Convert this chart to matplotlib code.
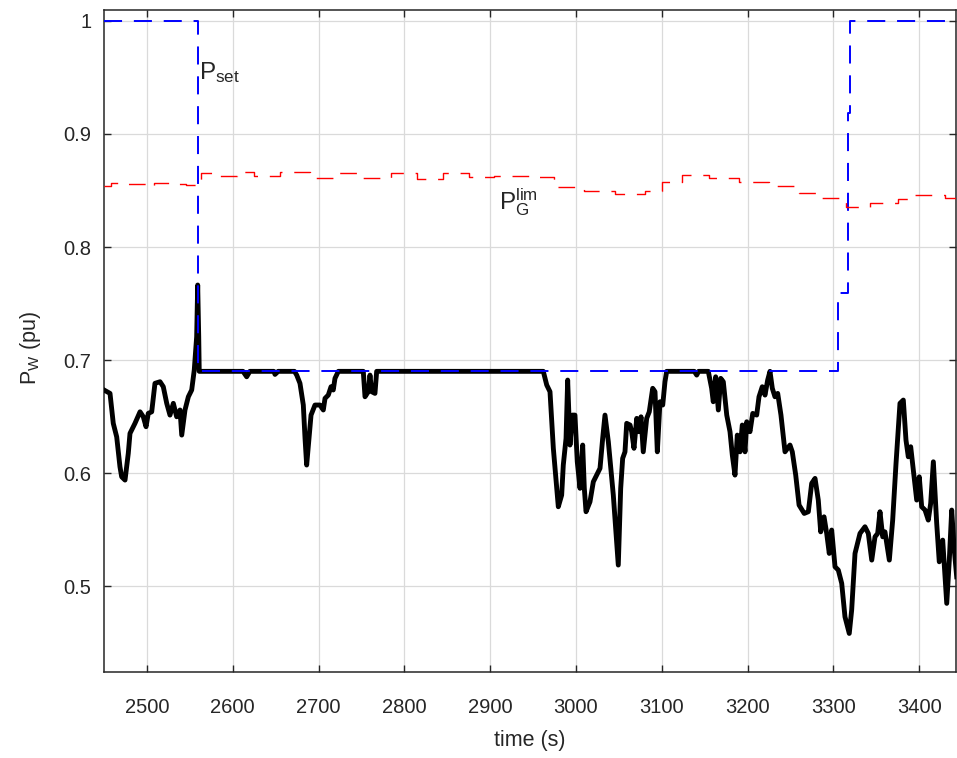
import matplotlib
matplotlib.use("Agg")
import matplotlib.pyplot as plt
from matplotlib import font_manager

# ---- data -------------------------------------------------------------
# wind power output P_W (pu)
pw_time = [
    2450, 2457, 2460.8, 2464.8, 2468.6, 2470.6, 2474.5, 2478.3, 2480.3, 2486.1,
    2492, 2495.8, 2499, 2501.6, 2505.6, 2509.4, 2515.3, 2519.1, 2523.1, 2526.9,
    2530.8, 2534.7, 2538.6, 2540.6, 2544.4, 2548.3, 2552.2, 2555.2, 2558, 2559.2,
    2560.4, 2561,
    2612, 2616.3, 2620, 2648, 2649.3, 2653, 2672, 2674.6, 2678.4, 2682.3, 2684.3,
    2686.2, 2688.9, 2691.3, 2695.9, 2701.7, 2705.6, 2707.6, 2711.4, 2714.6, 2717.2,
    2719.2, 2723.1, 2752.2, 2754.2, 2758, 2760, 2762, 2765.8, 2767.8,
    2962, 2966, 2969.8, 2973.7, 2979.5, 2983.4, 2985.3, 2988.5, 2990.4, 2993.1,
    2995.8, 2998.9, 3001.6, 3004.8, 3007.9, 3009.8, 3011.8, 3016.4, 3020.3, 3024.2,
    3028.1, 3031.2, 3033.9, 3037.8, 3043.6, 3049.4, 3052.2, 3054.5, 3057.2, 3059.2,
    3063.1, 3065, 3067.7, 3070.9, 3073.5, 3075.9, 3078.5, 3082.5, 3085.5, 3089.5,
    3092.2, 3094.9, 3098, 3101.2, 3103.8, 3105.8,
    3138, 3140.8, 3143, 3154.3, 3158.2, 3160.1, 3162.9, 3166, 3168.8, 3171.8,
    3175.8, 3179.6, 3182.3, 3185.4, 3188.1, 3191.3, 3193.9, 3197.1, 3199.1, 3202.9,
    3206.1, 3210.7, 3213.4, 3217.2, 3220.4, 3223.5, 3226.2, 3228.9, 3232, 3235.2,
    3239, 3243.7, 3249.5, 3252.2, 3256.2, 3260.1,
    3266.1, 3270.9, 3274.8, 3278.7, 3282.5, 3285.3, 3289.2, 3292.3, 3295.3, 3298.1,
    3302, 3305.8, 3309.8, 3313.6, 3318.6, 3321.4, 3325.3, 3331.1, 3336.9, 3340.8,
    3344.8, 3348.6, 3351.7, 3354.4, 3357.6, 3360.2, 3365.3, 3369.2, 3373.1, 3377.7,
    3381.6, 3384.7, 3387.4, 3390.2, 3394.1, 3397.2, 3400.2, 3403, 3406.9, 3410.7,
    3413.5, 3416.6, 3420.5, 3423.5, 3427.5, 3432.2, 3435.2, 3438, 3440.7, 3443.8,
]
pw_value = [
    0.6735, 0.6705, 0.644, 0.632, 0.6056, 0.5967, 0.5938, 0.6174, 0.6351, 0.644,
    0.6542, 0.6498, 0.641, 0.6528, 0.6542, 0.6794, 0.6808, 0.6764, 0.6617, 0.6513,
    0.6617, 0.6498, 0.6558, 0.6336, 0.6558, 0.6675, 0.6735, 0.6912, 0.7206, 0.7664,
    0.7206, 0.69,
    0.69, 0.6852, 0.69, 0.69, 0.6873, 0.69, 0.69, 0.6867, 0.6794, 0.6602, 0.6307,
    0.6071, 0.6307, 0.6513, 0.6602, 0.6602, 0.6558, 0.6661, 0.669, 0.6764, 0.6735,
    0.6838, 0.69, 0.69, 0.6675, 0.672, 0.6867, 0.672, 0.6705, 0.69,
    0.69, 0.6779, 0.672, 0.6219, 0.5702, 0.5805, 0.6071, 0.6307, 0.6823, 0.6248,
    0.6513, 0.6513, 0.61, 0.5865, 0.6248, 0.5865, 0.5658, 0.5746, 0.5923, 0.5982,
    0.6042, 0.6307, 0.6513, 0.6277, 0.5805, 0.5186, 0.5865, 0.613, 0.6188, 0.644,
    0.6425, 0.6366, 0.6219, 0.6484, 0.6366, 0.6498, 0.6188, 0.6484, 0.6542, 0.675,
    0.672, 0.6188, 0.6631, 0.6602, 0.6808, 0.69,
    0.69, 0.6867, 0.69, 0.69, 0.675, 0.6631, 0.6852, 0.6558, 0.6838, 0.6808,
    0.6513, 0.6366, 0.6159, 0.5982, 0.6336, 0.6188, 0.6425, 0.6188, 0.6454, 0.6366,
    0.6528, 0.6513, 0.6675, 0.6764, 0.669, 0.6823, 0.69, 0.675, 0.6675, 0.6705,
    0.6513, 0.6188, 0.6248, 0.6188, 0.5982, 0.5717,
    0.5643, 0.5658, 0.5909, 0.5953, 0.5761, 0.548, 0.5613, 0.5466, 0.5289, 0.5496,
    0.5171, 0.5142, 0.5024, 0.4728, 0.4581, 0.4788, 0.5289, 0.5466, 0.5525, 0.5466,
    0.523, 0.5436, 0.5466, 0.5658, 0.5436, 0.548, 0.523, 0.5584, 0.6086, 0.6617,
    0.6646, 0.6292, 0.6144, 0.6233, 0.5967, 0.5761, 0.5967, 0.5702, 0.5673, 0.5584,
    0.5732, 0.61, 0.5555, 0.5215, 0.5407, 0.4847, 0.523, 0.5673, 0.5348, 0.5082,
]

# set-point P_set (step changes)
pset_time = [2450, 2559, 3305, 3317, 3320, 3444]
pset_value = [1.0, 0.69, 0.759, 0.919, 1.0, 1.0]

# available power limit P_G^lim (step changes)
plim_time = [
    2450, 2458, 2478, 2503, 2508, 2530, 2545, 2559, 2563, 2578, 2605, 2625,
    2655, 2690, 2720, 2750, 2785, 2815, 2845, 2875, 2905, 2950, 2975, 3010,
    3045, 3080, 3100, 3124, 3155, 3190, 3225, 3260, 3285, 3315, 3343, 3375,
    3395, 3430, 3444,
]
plim_value = [
    0.854, 0.857, 0.856, 0.854, 0.857, 0.856, 0.855, 0.859, 0.8655, 0.8624,
    0.866, 0.8624, 0.866, 0.8614, 0.8655, 0.861, 0.8655, 0.8605, 0.8655, 0.862,
    0.8628, 0.862, 0.853, 0.850, 0.847, 0.850, 0.8575, 0.8637, 0.861, 0.8575,
    0.854, 0.848, 0.8435, 0.8354, 0.839, 0.8425, 0.846, 0.8435, 0.8435,
]

x_ticks = [2500, 2600, 2700, 2800, 2900, 3000, 3100, 3200, 3300, 3400]
y_ticks = [0.5, 0.6, 0.7, 0.8, 0.9, 1.0]
y_tick_labels = ["0.5", "0.6", "0.7", "0.8", "0.9", "1"]

# ---- style ------------------------------------------------------------
available = {f.name for f in font_manager.fontManager.ttflist}
if "Liberation Sans Narrow" in available:
    families = ["Liberation Sans Narrow", "Liberation Sans", "DejaVu Sans"]
    fs = 17
    fs_note = 20
else:
    families = ["Liberation Sans", "DejaVu Sans"]
    fs = 14.5
    fs_note = 17.5

plt.rcParams["font.family"] = families
plt.rcParams["mathtext.fontset"] = "custom"
plt.rcParams["mathtext.rm"] = families[0]
plt.rcParams["lines.scale_dashes"] = False

ink = "#262626"

fig = plt.figure(figsize=(9.57, 7.58), dpi=100)
ax = fig.add_axes([104 / 957, 1 - 672 / 758, 852 / 957, 662 / 758])

ax.plot(pw_time, pw_value, color="black", lw=3.5, solid_joinstyle="round", zorder=3)
ax.step(pset_time, pset_value, where="post", color=(0, 0, 1), lw=1.4,
        dashes=(13, 8.5), zorder=4)
ax.step(plim_time, plim_value, where="post", color=(1, 0, 0), lw=1.0,
        dashes=(12, 8.5), zorder=4)

ax.text(2561, 0.949, r"$\mathregular{P_{set}}$", fontsize=fs_note, color=ink,
        ha="left", va="baseline")
ax.text(2910, 0.833, r"$\mathregular{P_G^{lim}}$", fontsize=fs_note, color=ink,
        ha="left", va="baseline")

ax.set_xlim(2450, 3443)
ax.set_ylim(0.424, 1.0097)
ax.set_xticks(x_ticks)
ax.set_yticks(y_ticks)
ax.set_yticklabels(y_tick_labels)

ax.grid(True, color="#dadada", lw=0.9)
ax.set_axisbelow(True)
for s in ax.spines.values():
    s.set_color(ink)
    s.set_linewidth(1.1)
ax.tick_params(axis="both", direction="in", length=5, width=1.0, color=ink,
               labelcolor=ink, labelsize=fs, top=True, right=True)
ax.tick_params(axis="x", pad=19)
ax.tick_params(axis="y", pad=9)

ax.set_xlabel("time (s)", fontsize=fs + 1, color=ink, labelpad=9)
ax.set_ylabel(r"$\mathregular{P_W}$ (pu)", fontsize=fs + 1, color=ink, labelpad=9)
ax.yaxis.set_label_coords(-0.072, 0.49)

fig.savefig("out.png", dpi=100)
